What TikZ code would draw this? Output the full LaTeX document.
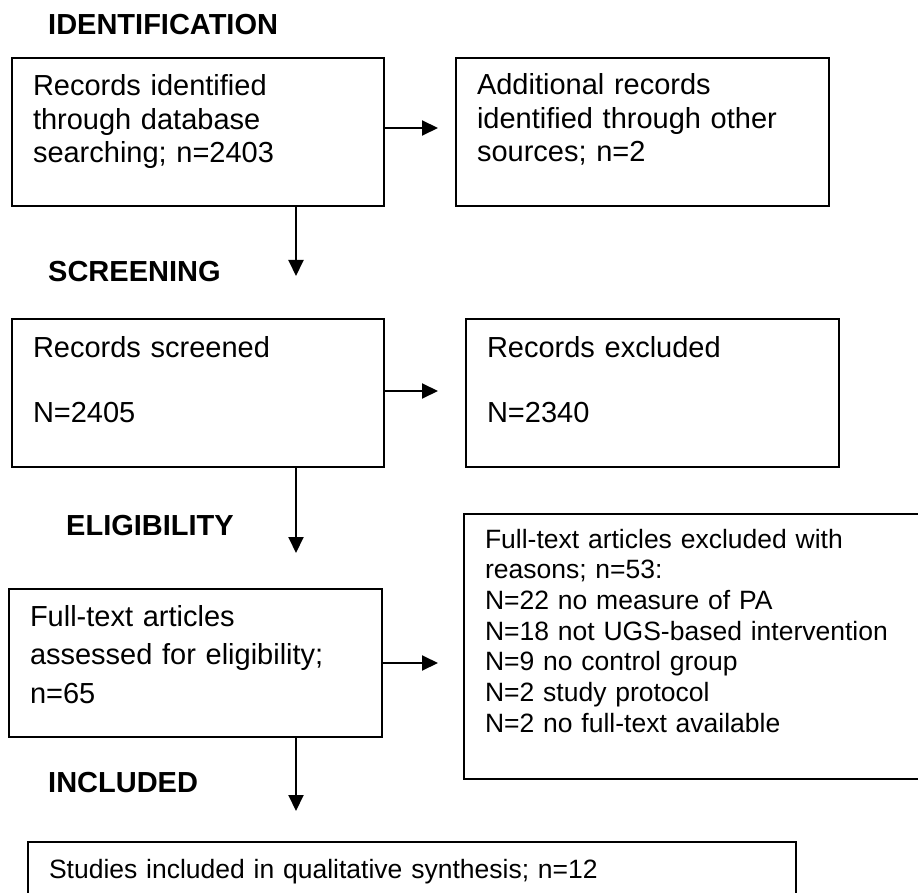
\documentclass[tikz,border=0pt]{standalone}
\usepackage{fontspec}
\setmainfont{Liberation Sans}
\usetikzlibrary{arrows.meta}

\begin{document}
\begin{tikzpicture}[x=1pt, y=-1pt,
  stagebox/.style={draw, line width=2, rectangle, anchor=north west, outer sep=0pt, align=left, inner xsep=21pt, inner ysep=0pt},
  bigtext/.style={font=\fontsize{29}{33.5}\selectfont},
  smalltext/.style={font=\fontsize{26.5}{30.7}\selectfont},
  heading/.style={anchor=base west, inner sep=0pt, font=\fontsize{29}{33.5}\selectfont\bfseries},
  flow/.style={-{Triangle[length=16pt, width=15pt]}, line width=2}]

\useasboundingbox (0,0) rectangle (918,893);

% stage headings

\node[heading] (hident) at (48,35) {IDENTIFICATION};
\node[heading] (hscreen) at (48,282) {SCREENING};
\node[heading] (helig) at (66,535) {ELIGIBILITY};
\node[heading] (hincl) at (48,792) {INCLUDED};

% left column

\node[stagebox, bigtext, text width=330pt, text height=38pt, text depth=110pt] (ident) at (12,58) {Records identified\\through database\\searching; n=2403};
\node[stagebox, bigtext, text width=330pt, text height=38pt, text depth=110pt] (screened) at (12,319) {Records screened\\[31.5pt]N=2405};
\node[stagebox, font=\fontsize{29}{38.5}\selectfont, text width=331pt, text height=37pt, text depth=111pt] (fulltext) at (9,589) {Full-text articles\\assessed for eligibility;\\n=65};
\node[stagebox, smalltext, text width=726pt, text height=36pt, text depth=50pt] (included) at (28,842) {Studies included in qualitative synthesis; n=12};

% right column

\node[stagebox, bigtext, text width=331pt, text height=37pt, text depth=111pt] (other) at (456,58) {Additional records\\identified through other\\sources; n=2};
\node[stagebox, bigtext, text width=331pt, text height=38pt, text depth=110pt] (excluded) at (466,319) {Records excluded\\[31.5pt]N=2340};
\node[stagebox, smalltext, text width=440pt, text height=34pt, text depth=231pt] (reasons) at (464,514) {Full-text articles excluded with\\reasons; n=53:\\N=22 no measure of PA\\N=18 not UGS-based intervention\\N=9 no control group\\N=2 study protocol\\N=2 no full-text available};

% arrow ends

\coordinate (e1) at (438,128);
\coordinate (e2) at (438,391);
\coordinate (e3) at (438,663);
\coordinate (d1) at (296,276);
\coordinate (d2) at (296,553);
\coordinate (d3) at (296,811);

% sideways
\draw [flow] (ident.east |- e1) -- (e1);
\draw [flow] (screened.east |- e2) -- (e2);
\draw [flow] (fulltext.east |- e3) -- (e3);

% downwards
\draw [flow] (ident.south -| d1) -- (d1);
\draw [flow] (screened.south -| d2) -- (d2);
\draw [flow] (fulltext.south -| d3) -- (d3);

\end{tikzpicture}
\end{document}
